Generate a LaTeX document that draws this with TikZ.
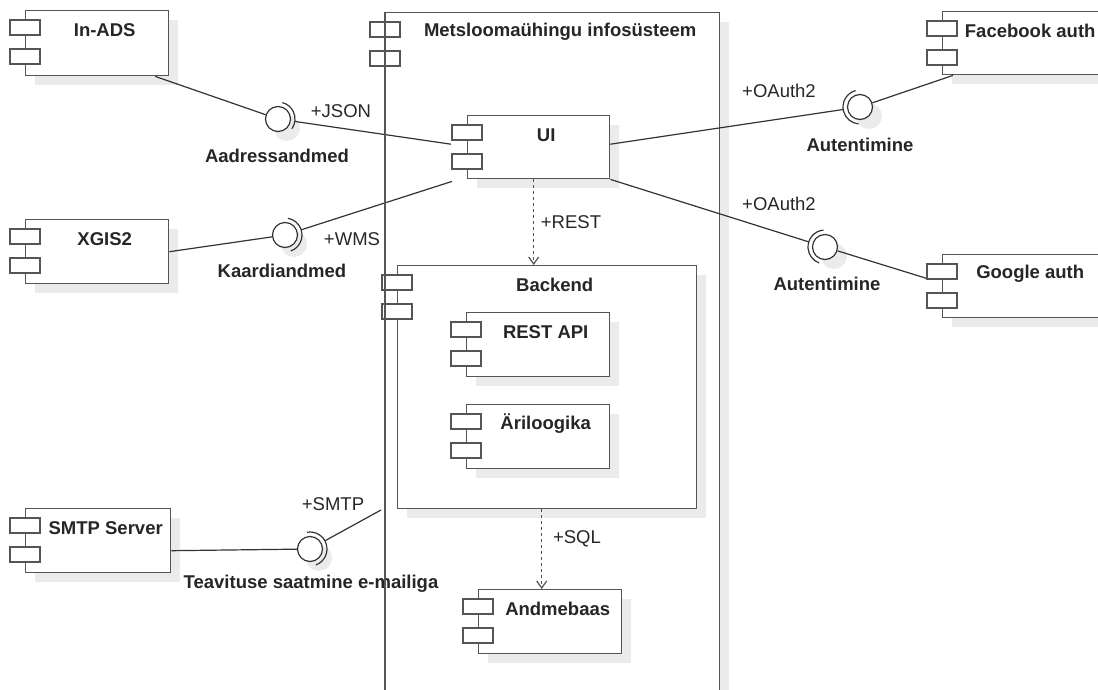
\documentclass[tikz,border=0pt]{standalone}
\usepackage{fontspec}
\setmainfont{Liberation Sans}
\usetikzlibrary{arrows.meta,calc}
\definecolor{boxline}{HTML}{555555}
\definecolor{shadowgray}{HTML}{EBEBEB}
\definecolor{connc}{HTML}{333333}
\tikzset{
 compbox/.style={draw=boxline, line width=1.4pt, fill=white, rectangle, inner sep=0pt, anchor=north west},
 portbox/.style={draw=boxline, line width=1.4pt, fill=white},
 ttl/.style={font=\bfseries\fontsize{18.5}{21}\selectfont, text=black!85, anchor=center, inner sep=0pt},
 lbl/.style={font=\fontsize{18.5}{21}\selectfont, text=black!85, inner sep=0pt},
 blbl/.style={font=\bfseries\fontsize{18.5}{21}\selectfont, text=black!85, inner sep=0pt},
 conn/.style={draw=connc, line width=1.2pt},
 ball/.style={circle, draw=connc, line width=1.2pt, minimum size=25pt, inner sep=0pt, fill=white},
 dep/.style={draw=connc!85, line width=1.2pt, dash pattern=on 3pt off 3pt, -{Straight Barb[open, length=7pt, width=10pt]}},
 shadowfill/.style={fill=shadowgray, draw=none},
}
\newcommand\umlcomp[6]{%
  \path[shadowfill] (#2+10,-#3-10) rectangle ++(#4,-#5);
  \node[compbox, minimum width=#4pt, minimum height=#5pt] (#1) at (#2,-#3) {};
  \draw[portbox] ($(#1.north west)+(-15,-10)$) rectangle ++(30,-15);
  \draw[portbox] ($(#1.north west)+(-15,-39)$) rectangle ++(30,-15);
  \node[ttl] (#1-t) at ($(#1.north west)!0.5!(#1.north east)+(7.5,-20)$) {#6};
}
\begin{document}
\begin{tikzpicture}[x=1pt,y=1pt]
\useasboundingbox (0,0) rectangle (1098,-690);
% system boundary
\umlcomp{main}{385}{12}{334}{700}{Metsloomaühingu infosüsteem}
% inner components
\umlcomp{backend}{397}{265}{299}{243}{Backend}
\umlcomp{rest}{466}{312}{143}{64}{REST API}
\umlcomp{logic}{466}{404}{143}{64}{Äriloogika}
\umlcomp{db}{478}{589}{143}{64}{Andmebaas}
\umlcomp{ui}{467}{115}{142}{63}{UI}
% external components
\umlcomp{inads}{25}{10}{143}{65}{In-ADS}
\umlcomp{xgis}{25}{219}{143}{64}{XGIS2}
\umlcomp{smtp}{25}{508}{145}{64}{SMTP Server}
\umlcomp{fb}{942}{11}{160}{63}{Facebook auth}
\umlcomp{google}{942}{254}{160}{63}{Google auth}
% anchor points
\coordinate (uiL1) at ([xshift=-16pt,yshift=3pt]ui.west);
\coordinate (uiL2) at ([xshift=-15pt,yshift=-2pt]ui.south west);
\coordinate (uiR1) at ([yshift=3pt]ui.east);
\coordinate (smtpend) at (381,-510);
% lollipop shadows
\path[shadowfill] (287,-128) circle (13);
\path[shadowfill] (294,-244) circle (13);
\path[shadowfill] (869,-116) circle (13);
\path[shadowfill] (834,-256) circle (13);
\path[shadowfill] (319,-558) circle (13);
% balls
\node[ball] (b1) at (278,-119) {};
\node[ball] (b2) at (285,-235) {};
\node[ball] (b3) at (860,-107) {};
\node[ball] (b4) at (825,-247) {};
\node[ball] (b5) at (310,-549) {};
% sockets
\draw[conn] ($(b1.center)+(-35:17)$) arc[start angle=-35, end angle=75, radius=17];
\draw[conn] ($(b2.center)+(-70:17)$) arc[start angle=-70, end angle=80, radius=17];
\draw[conn] ($(b3.center)+(105:17)$) arc[start angle=105, end angle=265, radius=17];
\draw[conn] ($(b4.center)+(95:17)$) arc[start angle=95, end angle=250, radius=17];
\draw[conn] ($(b5.center)+(-70:17)$) arc[start angle=-70, end angle=100, radius=17];
% connectors
\draw[conn] ([xshift=58pt]inads.south) -- (b1);
\draw[conn] ($(b1.center)!17pt!(uiL1)$) -- (uiL1);
\draw[conn] (xgis.east) -- (b2);
\draw[conn] ($(b2.center)!17pt!(uiL2)$) -- (uiL2);
\draw[conn] (uiR1) -- ($(b3.center)!17pt!(uiR1)$);
\draw[conn] (b3) -- ([xshift=11pt]fb.south west);
\draw[conn] (ui.south east) -- ($(b4.center)!17pt!(ui.south east)$);
\draw[conn] (b4) -- ([xshift=-16pt,yshift=8pt]google.west);
\draw[conn] ([yshift=-10pt]smtp.east) -- (b5);
\draw[conn] ($(b5.center)!17pt!(smtpend)$) -- (smtpend);
% dependencies
\draw[dep] ([xshift=-5pt]ui.south) -- ([xshift=-5pt]ui.south |- backend.north);
\draw[dep] ([xshift=-5.5pt]backend.south) -- ([xshift=-5.5pt]backend.south |- db.north);
% labels
\node[lbl] (ljson) at (341,-111) {+JSON};
\node[blbl] (laddr) at (277,-156) {Aadressandmed};
\node[lbl] (lwms) at (352,-239) {+WMS};
\node[blbl] (lmap) at (282,-271) {Kaardiandmed};
\node[lbl] (lrest) at (571,-222) {+REST};
\node[lbl] (loa1) at (779,-91) {+OAuth2};
\node[blbl] (lau1) at (860,-145) {Autentimine};
\node[lbl] (loa2) at (779,-204) {+OAuth2};
\node[blbl] (lau2) at (827,-284) {Autentimine};
\node[lbl] (lsql) at (577,-539) {+SQL};
\node[lbl] (lsmtp) at (333,-504) {+SMTP};
\node[blbl] (lmail) at (311,-584) {Teavituse saatmine e-mailiga};
% boundary line over label
\draw[boxline, line width=1.4pt] (main.north west) -- (main.south west);
\end{tikzpicture}
\end{document}
